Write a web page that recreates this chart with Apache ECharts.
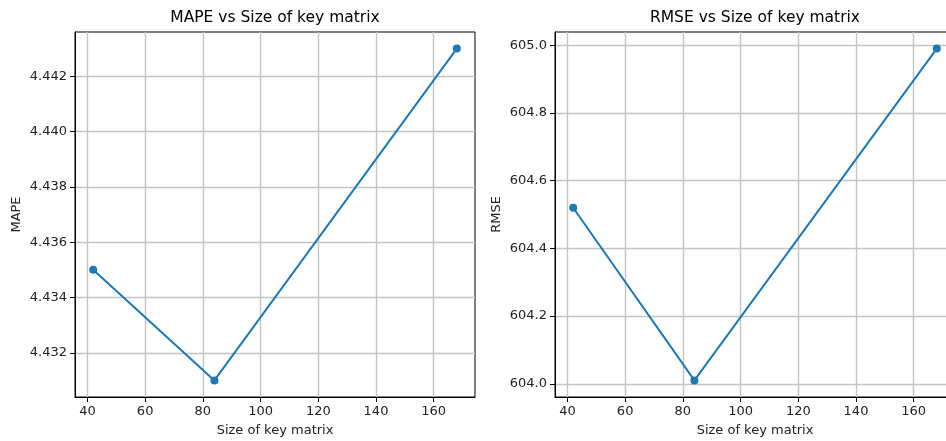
<!DOCTYPE html>
<html>
<head>
<meta charset="utf-8">
<script src="https://cdn.jsdelivr.net/npm/echarts@6/dist/echarts.min.js"></script>
<style>
  html, body { margin: 0; padding: 0; background: #fff; }
  #chart { width: 946px; height: 441px; }
</style>
</head>
<body>
<div id="chart"></div>
<script>
// data
const keySizes = [42, 84, 168];
const mapeValues = [4.435, 4.431, 4.443];
const rmseValues = [604.52, 604.01, 604.99];

// tick labels
const xTicks = [40, 60, 80, 100, 120, 140, 160];
const mapeTicks = [4.432, 4.434, 4.436, 4.438, 4.440, 4.442];
const rmseTicks = [604.0, 604.2, 604.4, 604.6, 604.8, 605.0];

const font = 'DejaVu Sans';
const blue = '#1f77b4';
const gridGray = '#c4c4c4';

// matplotlib style 5% margins
function padded(vals) {
  const lo = Math.min(...vals), hi = Math.max(...vals);
  const m = (hi - lo) * 0.05;
  return [lo - m, hi + m];
}

const xExt = padded(keySizes);
const mapeExt = padded(mapeValues);
const rmseExt = padded(rmseValues);

function xAxisOpt(gridIndex) {
  return {
    type: 'value',
    gridIndex: gridIndex,
    min: xExt[0],
    max: xExt[1],
    name: 'Size of key matrix',
    nameLocation: 'middle',
    nameGap: 27,
    nameTextStyle: { fontFamily: font, fontSize: 13, color: '#222' },
    axisLine: { onZero: false, lineStyle: { color: '#000', width: 1 } },
    axisTick: { show: true, length: 5, customValues: xTicks, lineStyle: { color: '#000' } },
    axisLabel: {
      customValues: xTicks, margin: 8,
      fontFamily: font, fontSize: 13, color: '#222'
    },
    splitLine: { show: true, lineStyle: { color: gridGray, width: 1.4 } }
  };
}

function yAxisOpt(gridIndex, ext, ticks, name, digits) {
  return {
    type: 'value',
    gridIndex: gridIndex,
    min: ext[0],
    max: ext[1],
    name: name,
    nameLocation: 'middle',
    nameGap: 52,
    nameTextStyle: { fontFamily: font, fontSize: 13, color: '#222' },
    axisLine: { show: true, onZero: false, lineStyle: { color: '#000', width: 1 } },
    axisTick: { show: true, length: 5, customValues: ticks, lineStyle: { color: '#000' } },
    axisLabel: {
      customValues: ticks, margin: 8,
      fontFamily: font, fontSize: 13, color: '#222',
      formatter: v => v.toFixed(digits)
    },
    splitLine: { show: true, lineStyle: { color: gridGray, width: 1.4 } }
  };
}

function lineSeries(idx, vals) {
  return {
    type: 'line',
    xAxisIndex: idx,
    yAxisIndex: idx,
    data: keySizes.map((k, i) => [k, vals[i]]),
    symbol: 'circle',
    symbolSize: 8,
    showSymbol: true,
    itemStyle: { color: blue },
    lineStyle: { color: blue, width: 2 },
    animation: false
  };
}

const chart = echarts.init(document.getElementById('chart'));
chart.setOption({
  backgroundColor: '#fff',
  animation: false,
  grid: [
    { left: 75, top: 32, width: 400, height: 365, outerBoundsMode: 'none', show: true, borderColor: '#000', borderWidth: 1, backgroundColor: 'transparent' },
    { left: 555, top: 32, width: 400, height: 365, outerBoundsMode: 'none', show: true, borderColor: '#000', borderWidth: 1, backgroundColor: 'transparent' }
  ],
  graphic: [
    { type: 'text', x: 275, y: 18, style: { text: 'MAPE vs Size of key matrix', font: '15.5px "DejaVu Sans"', fill: '#000', align: 'center', verticalAlign: 'middle' } },
    { type: 'text', x: 755, y: 18, style: { text: 'RMSE vs Size of key matrix', font: '15.5px "DejaVu Sans"', fill: '#000', align: 'center', verticalAlign: 'middle' } }
  ],
  xAxis: [xAxisOpt(0), xAxisOpt(1)],
  yAxis: [
    yAxisOpt(0, mapeExt, mapeTicks, 'MAPE', 3),
    yAxisOpt(1, rmseExt, rmseTicks, 'RMSE', 1)
  ],
  series: [lineSeries(0, mapeValues), lineSeries(1, rmseValues)]
});
</script>
</body>
</html>
